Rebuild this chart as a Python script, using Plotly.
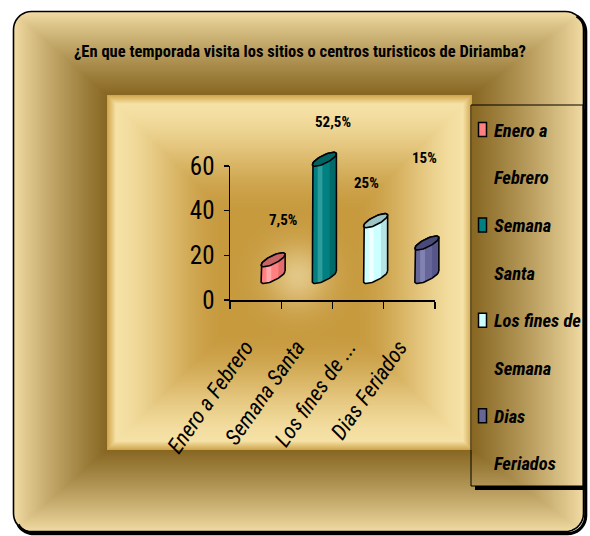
import base64
import struct
import zlib

import numpy as np
import plotly.graph_objects as go

# ---------------------------------------------------------------- data
title_text = "¿En que temporada visita los sitios o centros turisticos de Diriamba?"
categories = ["Enero a Febrero", "Semana Santa", "Los fines de Semana", "Dias Feriados"]
axis_labels = ["Enero a Febrero", "Semana Santa", "Los fines de ...", "Dias Feriados"]
legend_lines = [["Enero a", "Febrero"], ["Semana", "Santa"],
                ["Los fines de", "Semana"], ["Dias", "Feriados"]]
percent = [7.5, 52.5, 25, 15]
y_ticks = [0, 20, 40, 60]

# ---------------------------------------------------------------- styles
body_colors = ["#FF8080", "#008080", "#CCFFFF", "#666699"]
cap_colors = ["#C86464", "#006464", "#9CC4C4", "#4A4A7A"]
light_colors = ["#FFA6A6", "#2C9C9C", "#F0FFFF", "#8282B2"]
dark_colors = ["#E46C6C", "#006A6A", "#B4E4E4", "#56568A"]
label_xshift = [10, 9, -9, -2]
label_yshift = [40, 37, 38, 85]

NARROW = "Liberation Sans Narrow, Roboto Condensed, Liberation Sans, Arial, sans-serif"

W, H = 590, 536
AX_X0, AX_X1 = 230, 435        # plot area (pixels)
AX_Y0, AX_Y1 = 166, 300
Y_MAX = 60
PX_X = (AX_X1 - AX_X0) / len(categories)     # pixels per category
PX_Y = (AX_Y1 - AX_Y0) / Y_MAX               # pixels per percent
DEPTH_DX, DEPTH_DY = 17.5, 23.5              # oblique 3-D offset of the floor
CYL_A, CYL_B, CYL_TILT = 12.0, 4.5, 0.45     # cylinder cross-section ellipse
LABEL_NUDGE = -0.2                           # rotated labels sit left of centre


def px(x):
    return x / W


def py(y):
    return 1 - y / H


# ---------------------------------------------------------------- background
def smoothstep(t):
    t = np.clip(t, 0, 1)
    return t * t * (3 - 2 * t)


def hex_rgb(h):
    h = h.lstrip("#")
    return np.array([int(h[i:i + 2], 16) for i in (0, 2, 4)], dtype=float)


def lerp(c0, c1, t):
    return c0 + (c1 - c0) * t[..., None]


OX0, OY0, OX1, OY1, OR = 13.5, 11.5, 583.5, 531.5, 18
IX0, IY0, IX1, IY1 = 107, 95, 472, 450

yy, xx = np.mgrid[0:H, 0:W].astype(float) + 0.5

# bevelled outer frame: light at the outer rim, dark brown at the inner edge
tl = (xx - OX0) / (IX0 - OX0)
tr = (OX1 - xx) / (OX1 - IX1)
tt = (yy - OY0) / (IY0 - OY0)
tb = (OY1 - yy) / (OY1 - IY1)
t = np.clip(np.minimum(np.minimum(tl, tr), np.minimum(tt, tb)), 0, 1) ** 0.85
frame = lerp(hex_rgb("#F4DEA6"), hex_rgb("#876722"), t)

# inner panel: cream border fading to gold in the middle
d = np.minimum(np.minimum(xx - IX0, IX1 - xx), np.minimum(yy - IY0, IY1 - yy))
inner = lerp(hex_rgb("#F7E3A8"), hex_rgb("#C79A3E"), smoothstep(d / 120))
glow = np.exp(-((xx - 298) ** 2 + (yy - 276) ** 2) / (2 * 22 ** 2)) * 0.55
inner = lerp(inner, np.broadcast_to(hex_rgb("#F8EBC0"), inner.shape), glow)
edge = np.clip(d / 9, 0, 1)
inner = lerp(np.broadcast_to(hex_rgb("#CFA448"), inner.shape), inner, edge)

inside_inner = (xx > IX0) & (xx < IX1) & (yy > IY0) & (yy < IY1)
img = np.where(inside_inner[..., None], inner, frame)

# rounded outer mask
inside = (xx >= OX0) & (xx <= OX1) & (yy >= OY0) & (yy <= OY1)
for cx, cy in [(OX0 + OR, OY0 + OR), (OX1 - OR, OY0 + OR),
               (OX0 + OR, OY1 - OR), (OX1 - OR, OY1 - OR)]:
    in_corner_box = (np.abs(xx - cx) <= OR) & (np.abs(yy - cy) <= OR) & \
        ((xx - cx) * np.sign(cx - W / 2) > 0) & ((yy - cy) * np.sign(cy - H / 2) > 0)
    inside &= ~(in_corner_box & ((xx - cx) ** 2 + (yy - cy) ** 2 > OR ** 2))
img = np.where(inside[..., None], img, 255.0)
img = np.clip(img, 0, 255).astype(np.uint8)


def png_uri(rgb):
    h, w, _ = rgb.shape
    raw = b"".join(b"\x00" + rgb[r].tobytes() for r in range(h))

    def chunk(tag, data):
        c = struct.pack(">I", len(data)) + tag + data
        return c + struct.pack(">I", zlib.crc32(tag + data) & 0xFFFFFFFF)

    png = (b"\x89PNG\r\n\x1a\n"
           + chunk(b"IHDR", struct.pack(">IIBBBBB", w, h, 8, 2, 0, 0, 0))
           + chunk(b"IDAT", zlib.compress(raw, 9))
           + chunk(b"IEND", b""))
    return "data:image/png;base64," + base64.b64encode(png).decode()


# ---------------------------------------------------------------- cylinders
def ell(theta):
    """Offsets (pixels, y down) of the tilted cross-section ellipse."""
    return (CYL_A * np.cos(theta),
            -CYL_A * CYL_TILT * np.cos(theta) + CYL_B * np.sin(theta))


def to_data(i, base, dx, dy):
    return i + dx / PX_X, base - dy / PX_Y


fig = go.Figure()

for i, (name, v) in enumerate(zip(categories, percent)):
    # outline of the whole cylinder: bottom front arc + top back arc
    th_b = np.linspace(0, np.pi, 31)
    th_t = np.linspace(np.pi, 2 * np.pi, 31)
    bx, by = to_data(i, 0, *ell(th_b))
    tx, ty = to_data(i, v, *ell(th_t))
    sx = np.concatenate([bx, tx, bx[:1]])
    sy = np.concatenate([by, ty, by[:1]])
    common = dict(xaxis="x2", yaxis="y2", mode="lines", showlegend=False,
                  hoverinfo="skip")
    fig.add_trace(go.Scatter(x=sx, y=sy, fill="toself", fillcolor=body_colors[i],
                             line=dict(width=0), name=name, **common))
    # vertical shading strips on the body
    for f0, f1, col in [(0.22, 0.42, light_colors[i]), (0.72, 0.97, dark_colors[i])]:
        th = np.linspace(np.arccos(2 * f0 - 1), np.arccos(2 * f1 - 1), 12)
        lx, ly = to_data(i, 0, *ell(th))
        ux, uy = to_data(i, v, *ell(th[::-1]))
        fig.add_trace(go.Scatter(x=np.concatenate([lx, ux]), y=np.concatenate([ly, uy]),
                                 fill="toself", fillcolor=col, line=dict(width=0),
                                 **common))
    fig.add_trace(go.Scatter(x=sx, y=sy, line=dict(color="black", width=1.6), **common))
    # top cap
    th_c = np.linspace(0, 2 * np.pi, 61)
    cx_, cy_ = to_data(i, v, *ell(th_c))
    fig.add_trace(go.Scatter(x=cx_, y=cy_, fill="toself", fillcolor=cap_colors[i],
                             line=dict(color="black", width=1.6), **common))
    # value label
    fig.add_annotation(xref="x2", yref="y2", x=i, y=v,
                       text=f"{v:g}".replace(".", ",") + "%", showarrow=False,
                       xshift=label_xshift[i], yshift=label_yshift[i],
                       font=dict(family=NARROW, size=15, color="black", weight="bold"))

# ---------------------------------------------------------------- axes
x2_r0 = -(AX_X0 + 0.5 * PX_X + DEPTH_DX) / PX_X
y2_r0 = -(H - (AX_Y1 - DEPTH_DY)) / PX_Y
fig.update_layout(
    template="none",
    xaxis=dict(domain=[px(AX_X0), px(AX_X1)], range=[-0.5, len(categories) - 0.5],
               tickmode="array",
               tickvals=[k + LABEL_NUDGE for k in range(len(categories))],
               ticktext=[f"<i>{s}</i>" for s in axis_labels], ticks="", tickangle=-55,
               tickfont=dict(family=NARROW, size=22, color="black", style="italic"),
               ticklabelstandoff=24,
               minor=dict(tickmode="array",
                          tickvals=[k - 0.5 for k in range(len(categories) + 1)],
                          ticks="outside", ticklen=7, tickwidth=1.2, tickcolor="black"),
               showline=True, linecolor="black", linewidth=1.5, automargin=False,
               showgrid=False, zeroline=False, anchor="y", fixedrange=True),
    yaxis=dict(domain=[py(AX_Y1), py(AX_Y0)], range=[0, Y_MAX],
               tickmode="array", tickvals=y_ticks, ticks="outside", ticklen=5,
               tickwidth=1.2, tickcolor="black", ticklabelstandoff=4,
               tickfont=dict(family=NARROW, size=25, color="black"),
               showline=True, linecolor="black", linewidth=1.5, automargin=False,
               showgrid=False, zeroline=False, anchor="x", fixedrange=True),
    xaxis2=dict(domain=[0, 1], range=[x2_r0, x2_r0 + W / PX_X], visible=False,
                anchor="y2", fixedrange=True, automargin=False),
    yaxis2=dict(domain=[0, 1], range=[y2_r0, y2_r0 + H / PX_Y], visible=False,
                anchor="x2", fixedrange=True, automargin=False),
)
fig.add_trace(go.Scatter(x=[None], y=[None], xaxis="x", yaxis="y",
                         showlegend=False, hoverinfo="skip"))

# ---------------------------------------------------------------- frame border
def rounded_pts(r, arcs):
    pts = []
    for cx, cy, a0, a1 in arcs:
        for a in np.linspace(np.radians(a0), np.radians(a1), 10):
            pts.append((cx + r * np.cos(a), cy + r * np.sin(a)))
    return pts


def path_of(pts, closed=True):
    s = "M " + " L ".join(f"{px(x):.5f},{py(y):.5f}" for x, y in pts)
    return s + (" Z" if closed else "")


arcs_all = [(OX1 - OR, OY0 + OR, -90, 0), (OX1 - OR, OY1 - OR, 0, 90),
            (OX0 + OR, OY1 - OR, 90, 180), (OX0 + OR, OY0 + OR, 180, 270)]
shadow_arcs = [(OX1 - OR + 2.2, OY0 + OR + 2.2, -60, 0), (OX1 - OR + 2.2, OY1 - OR + 2.2, 0, 90),
               (OX0 + OR + 2.2, OY1 - OR + 2.2, 90, 150)]
shapes = [
    dict(type="path", xref="paper", yref="paper",
         path=path_of(rounded_pts(OR, shadow_arcs), closed=False),
         line=dict(color="black", width=3.2)),
    dict(type="path", xref="paper", yref="paper",
         path=path_of(rounded_pts(OR, arcs_all)),
         line=dict(color="black", width=1.6)),
]

# ---------------------------------------------------------------- legend
LG_X0, LG_Y0, LG_X1, LG_Y1 = 471, 105, 583, 486
LINE0, LINE_STEP = 130.5, 47.7
shapes += [
    dict(type="rect", xref="paper", yref="paper", x0=px(LG_X1), x1=px(LG_X1 + 4),
         y0=py(LG_Y1 + 4), y1=py(LG_Y0 + 4), fillcolor="black", line=dict(width=0)),
    dict(type="rect", xref="paper", yref="paper", x0=px(LG_X0 + 4), x1=px(LG_X1 + 4),
         y0=py(LG_Y1 + 4), y1=py(LG_Y1), fillcolor="black", line=dict(width=0)),
    dict(type="rect", xref="paper", yref="paper", x0=px(LG_X0), x1=px(LG_X1),
         y0=py(LG_Y1), y1=py(LG_Y0), line=dict(color="black", width=1)),
]
for k, lines in enumerate(legend_lines):
    y_first = LINE0 + 2 * k * LINE_STEP
    shapes.append(dict(type="rect", xref="paper", yref="paper",
                       x0=px(478.5), x1=px(486.5), y0=py(y_first + 6), y1=py(y_first - 8),
                       fillcolor=body_colors[k], line=dict(color="black", width=1.5)))
    for j, line in enumerate(lines):
        fig.add_annotation(xref="paper", yref="paper", x=px(492),
                           y=py(y_first + j * LINE_STEP), text=line, showarrow=False,
                           xanchor="left", yanchor="middle",
                           font=dict(family=NARROW, size=18.5, color="black",
                                     weight="bold", style="italic"))

# ---------------------------------------------------------------- title
fig.add_annotation(xref="paper", yref="paper", x=px(300), y=py(52), text=title_text,
                   showarrow=False, xanchor="center", yanchor="middle",
                   font=dict(family=NARROW, size=16.5, color="black", weight="bold"))

fig.update_layout(
    width=W, height=H, autosize=False,
    margin=dict(l=0, r=0, t=0, b=0, pad=0),
    paper_bgcolor="white", plot_bgcolor="rgba(0,0,0,0)",
    showlegend=False, shapes=shapes,
    images=[dict(source=png_uri(img), xref="paper", yref="paper", x=0, y=1,
                 sizex=1, sizey=1, sizing="stretch", xanchor="left", yanchor="top",
                 layer="below")],
)

fig.write_html("out.html", config={"displayModeBar": False, "staticPlot": True})
